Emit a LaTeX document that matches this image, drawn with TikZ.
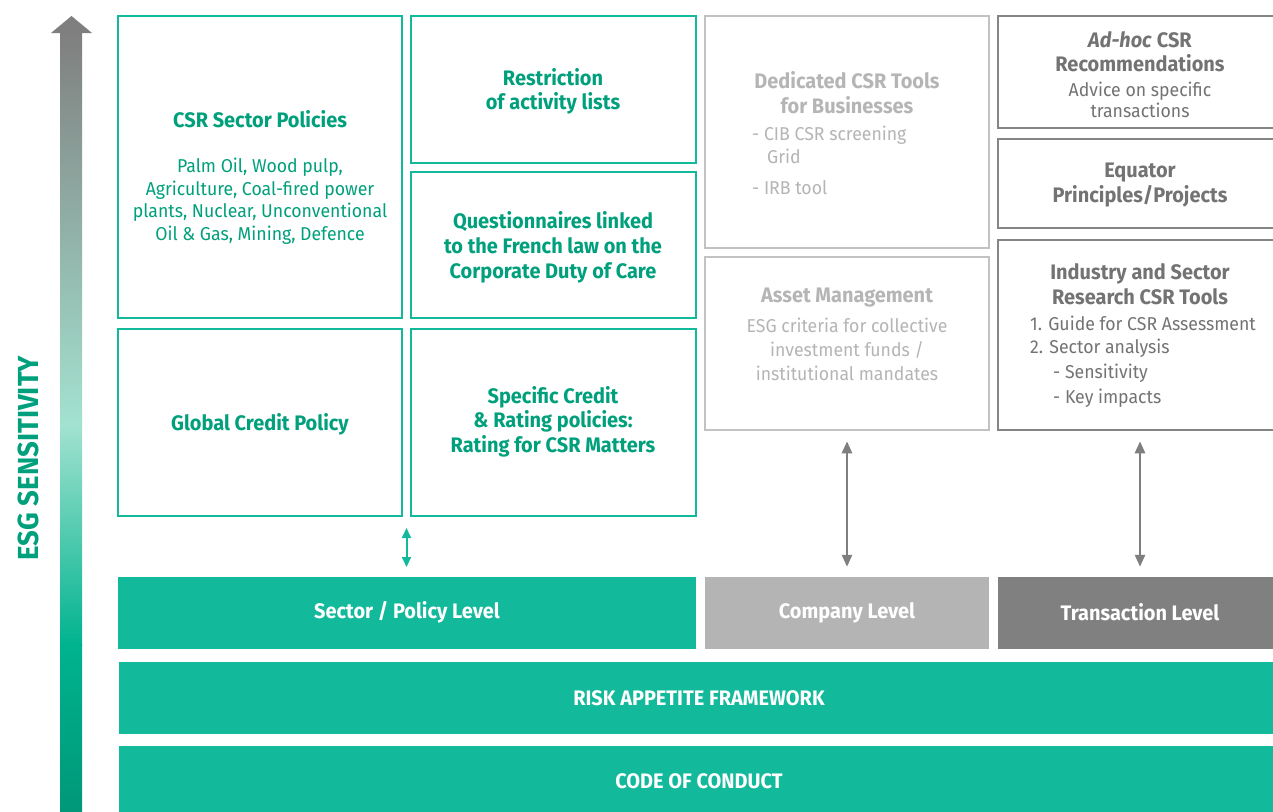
\documentclass[tikz,border=0pt]{standalone}
\usepackage{fontspec}
\setmainfont[FakeStretch=0.95]{Fira Sans}
\usetikzlibrary{arrows.meta}
\definecolor{tealfill}{HTML}{12B99B}
\definecolor{tealtxt}{HTML}{00A07C}
\definecolor{lgray}{HTML}{C2C2C2}
\definecolor{lgraytxt}{HTML}{B5B5B5}
\definecolor{lgrayfill}{HTML}{B4B4B4}
\definecolor{dgray}{HTML}{858585}
\definecolor{dgraytxt}{HTML}{737373}
\definecolor{dgrayfill}{HTML}{808080}
\definecolor{arrgray}{HTML}{7F7F7F}
\definecolor{mint}{HTML}{A3E2D0}
\definecolor{tealmid}{HTML}{00B38F}
\definecolor{tealdark}{HTML}{009878}
\newcommand{\ttlfont}{\fontsize{21}{24.5}\selectfont\bfseries}
\newcommand{\bodyfont}{\fontsize{18.6}{22.5}\selectfont}
\begin{document}
\begin{tikzpicture}[x=1pt,y=-1pt,
  gbox/.style={draw=tealfill, line width=2.5pt, inner sep=0pt},
  lbox/.style={draw=lgray, line width=2.5pt, inner sep=0pt},
  dbox/.style={draw=dgray, line width=2.5pt, inner sep=0pt},
  bar/.style={inner sep=0pt, text=white, font=\ttlfont},
  gt/.style={text=tealtxt, align=center, inner sep=0pt},
  lt/.style={text=lgraytxt, align=center, inner sep=0pt},
  dt/.style={text=dgraytxt, align=center, inner sep=0pt},
  dblarrow/.style={{Triangle[length=12pt,width=10pt]}-{Triangle[length=12pt,width=10pt]}, line width=2.5pt}
]
\clip (0,0) rectangle (1273,811);
\fill[white] (0,0) rectangle (1273,811);

% left sensitivity arrow
\fill[arrgray] (51,33) -- (71.5,16) -- (92,33) -- cycle;
\shade[top color=arrgray, bottom color=mint] (60,32.5) rectangle (82,424);
\shade[top color=mint, bottom color=tealmid] (60,423.5) rectangle (82,645);
\shade[top color=tealmid, bottom color=tealdark] (60,644.5) rectangle (82,811);
\node[rotate=90, text=tealtxt, inner sep=0pt, font={\fontsize{29}{31}\selectfont\bfseries}] (esg) at (28,458) {ESG SENSITIVITY};

% column 1
\node[gbox, minimum width=284pt, minimum height=302pt] (csr) at (260,167) {};
\node[gbox, minimum width=284pt, minimum height=187pt] (glob) at (260,422.5) {};
% column 2
\node[gbox, minimum width=285pt, minimum height=147pt] (restr) at (553.5,89.5) {};
\node[gbox, minimum width=285pt, minimum height=146pt] (quest) at (553.5,245) {};
\node[gbox, minimum width=285pt, minimum height=187pt] (spec) at (553.5,422.5) {};
% column 3
\node[lbox, minimum width=284pt, minimum height=232pt] (ded) at (847,132) {};
\node[lbox, minimum width=284pt, minimum height=173pt] (asset) at (847,343.5) {};
% column 4
\node[dbox, minimum width=290pt, minimum height=112pt] (adhoc) at (1143,72) {};
\node[dbox, minimum width=290pt, minimum height=89pt] (equ) at (1143,183.5) {};
\node[dbox, minimum width=290pt, minimum height=190pt] (ind) at (1143,335) {};

% texts column 1
\node[gt, font=\ttlfont] (csrt) at (260,119) {CSR Sector Policies};
\node[gt, font=\bodyfont] (csrb) at (260,201) {Palm Oil, Wood pulp,\\Agriculture, Coal-fired power\\plants, Nuclear, Unconventional\\Oil \& Gas, Mining, Defence};
\node[gt, font=\ttlfont] (globt) at (260,424) {Global Credit Policy};
% texts column 2
\node[gt, font=\ttlfont] (restrt) at (553,91.5) {Restriction\\of activity lists};
\node[gt, font={\fontsize{21}{25}\selectfont\bfseries}] (questt) at (553,247.5) {Questionnaires linked\\to the French law on the\\Corporate Duty of Care};
\node[gt, font=\ttlfont] (spect) at (553,421.5) {Specific Credit\\\& Rating policies:\\Rating for CSR Matters};
% texts column 3
\node[lt, font={\fontsize{21}{25}\selectfont\bfseries}] (dedt) at (847,92.5) {Dedicated CSR Tools\\for Businesses};
\node[lt, font=\bodyfont, anchor=west] (ded1) at (752,135) {- CIB CSR screening};
\node[lt, font=\bodyfont, anchor=west] (ded2) at (767,156) {Grid};
\node[lt, font=\bodyfont, anchor=west] (ded3) at (752,188) {- IRB tool};
\node[lt, font=\ttlfont] (assett) at (847,297.5) {Asset Management};
\node[lt, font={\fontsize{18.6}{24}\selectfont}] (assetb) at (847,349) {ESG criteria for collective\\investment funds /\\institutional mandates};
% texts column 4
\node[dt, font=\ttlfont] (adhoct) at (1140,51.5) {\textit{Ad-hoc} CSR\\Recommendations};
\node[dt, font={\fontsize{18.6}{21}\selectfont}] (adhocb) at (1140,100) {Advice on specific\\transactions};
\node[dt, font=\ttlfont] (equt) at (1140,185) {Equator\\Principles/Projects};
\node[dt, font=\ttlfont] (indt) at (1140,284) {Industry and Sector\\Research CSR Tools};
\node[dt, font=\bodyfont, anchor=west] (ind1) at (1030,323) {1. Guide for CSR Assessment};
\node[dt, font=\bodyfont, anchor=west] (ind2) at (1030,348) {2. Sector analysis};
\node[dt, font=\bodyfont, anchor=west] (ind3) at (1053,373) {- Sensitivity};
\node[dt, font=\bodyfont, anchor=west] (ind4) at (1053,398) {- Key impacts};

% level bars
\node[bar, fill=tealfill, minimum width=578pt, minimum height=72pt] (sector) at (407,613) {};
\node[bar] (sectort) at (407,612) {Sector / Policy Level};
\node[bar, fill=lgrayfill, minimum width=284pt, minimum height=72pt] (company) at (847,613) {};
\node[bar] (companyt) at (847,613) {Company Level};
\node[bar, fill=dgrayfill, minimum width=290pt, minimum height=72pt] (trans) at (1143,613) {};
\node[bar] (transt) at (1140,612) {Transaction Level};
\node[bar, fill=tealfill, minimum width=1160pt, minimum height=72pt] (raf) at (699,698) {RISK APPETITE FRAMEWORK};
\node[bar, fill=tealfill, minimum width=1160pt, minimum height=70pt] (coc) at (699,781) {CODE OF CONDUCT};

% connectors
\coordinate (gapb) at (406.5,516);
\coordinate (gapt) at (406.5,577);
\draw[dblarrow, draw=tealfill, fill=tealfill, line width=2pt, {Triangle[length=10pt,width=9pt]}-{Triangle[length=10pt,width=9pt]}, shorten <=12pt, shorten >=10pt] (gapb) -- (gapt);
\draw[dblarrow, draw=arrgray, shorten <=10pt, shorten >=10pt] (asset.south) -- (company.north);
\draw[dblarrow, draw=arrgray, shorten <=10pt, shorten >=10pt] (ind.south -| transt) -- (trans.north -| transt);
\end{tikzpicture}
\end{document}
